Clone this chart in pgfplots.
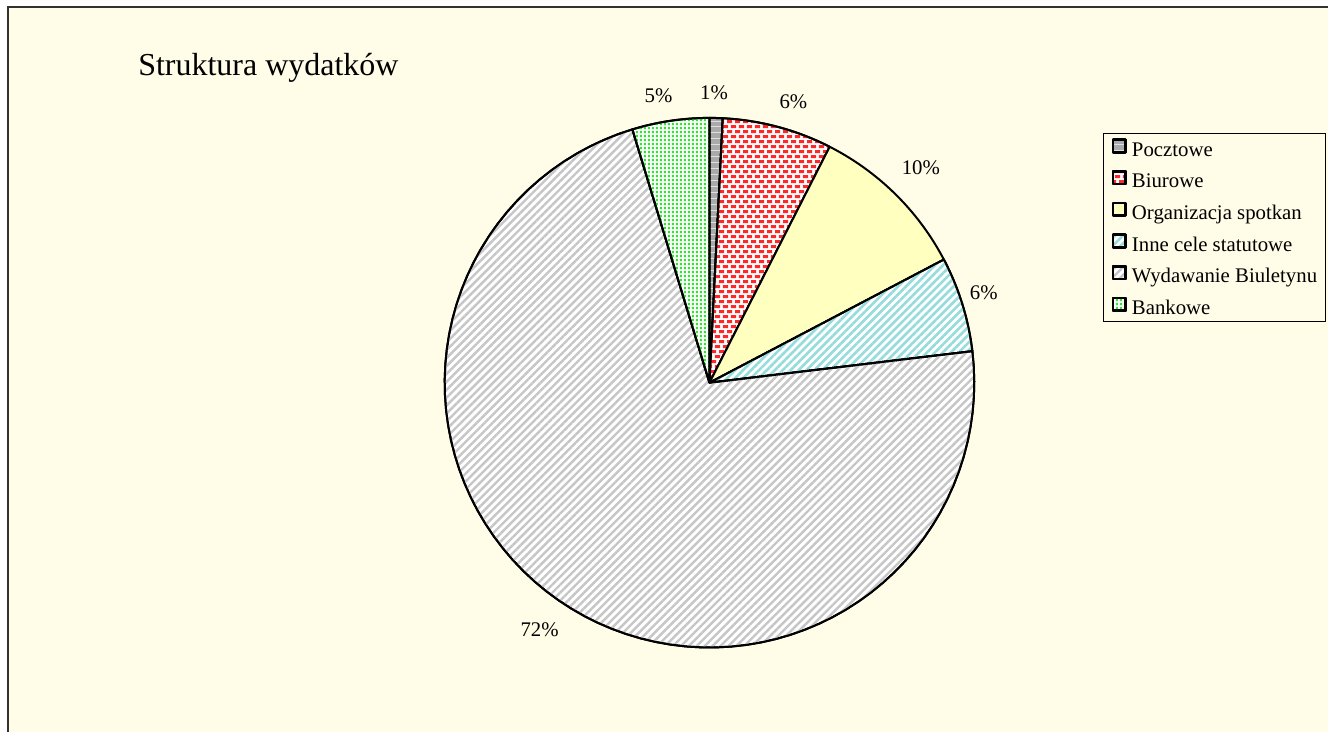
\documentclass[border=0pt]{standalone}
\usepackage{fontspec}
\setmainfont{Liberation Serif}
\usepackage{pgfplots}
\pgfplotsset{compat=1.18}
\usetikzlibrary{patterns,patterns.meta}

\definecolor{bgivory}{RGB}{255,253,231}
\definecolor{framec}{RGB}{50,50,50}
\definecolor{pgray}{RGB}{198,198,198}
\definecolor{pdark}{RGB}{170,170,170}
\definecolor{pyellow}{RGB}{255,255,192}
\definecolor{pcyan}{RGB}{150,220,220}
\definecolor{pred}{RGB}{255,40,40}
\definecolor{pgreen}{RGB}{40,235,40}

% red dashes in staggered rows (Biurowe)
\pgfdeclarepatternformonly{reddash}{\pgfqpoint{0pt}{0pt}}{\pgfqpoint{4pt}{5pt}}{\pgfqpoint{4pt}{5pt}}{%
  \pgfpathrectangle{\pgfqpoint{0pt}{0.5pt}}{\pgfqpoint{2.6pt}{1.4pt}}%
  \pgfpathrectangle{\pgfqpoint{2pt}{3pt}}{\pgfqpoint{2pt}{1.4pt}}%
  \pgfpathrectangle{\pgfqpoint{0pt}{3pt}}{\pgfqpoint{0.6pt}{1.4pt}}%
  \pgfusepath{fill}}
% small green dots (Bankowe)
\pgfdeclarepatternformonly{greendots}{\pgfqpoint{0pt}{0pt}}{\pgfqpoint{2pt}{2pt}}{\pgfqpoint{2pt}{2pt}}{%
  \pgfpathrectangle{\pgfqpoint{0.5pt}{0.5pt}}{\pgfqpoint{1pt}{1pt}}%
  \pgfusepath{fill}}

% pie: centre (710,350), radius 265, clockwise from the top
\newcommand\cum{0}
\newcommand\slice[2]{%
  \pgfmathsetmacro\sa{\cum}%
  \pgfmathsetmacro\sb{\cum+3.6*#2}%
  \xdef\cum{\sb}%
  \edef\tmp{\noexpand\addplot[\unexpanded{#1},draw=black,line width=1pt,line join=round,
    domain=\sa:\sb,samples=80] ({710+265*sin(x)},{350+265*cos(x)}) -- (axis cs:710,350) -- cycle;}%
  \tmp}

\begin{document}
\begin{tikzpicture}
\begin{axis}[
  width=664.5pt, height=366.5pt, scale only axis,
  xmin=0, xmax=1329, ymin=0, ymax=733,
  hide axis, clip=false,
  legend entries={Pocztowe, Biurowe, Organizacja spotkan, Inne cele statutowe, Wydawanie Biuletynu, Bankowe},
  legend style={at={(0.8307,0.8186)}, anchor=north west, draw=black, line width=0.6pt,
    fill=bgivory, font=\fontsize{10.4}{12.5}\selectfont,
    inner xsep=4pt, inner ysep=2.5pt, row sep=6pt,
    nodes={inner sep=0pt, text height=7pt, text depth=1pt}, cells={anchor=west},
    /tikz/every odd column/.append style={column sep=2.5pt}},
  legend image code/.code={\draw[#1,line width=1.3pt] (0pt,-1.1pt) rectangle (6.3pt,5.2pt);},
]
\fill[white] (axis cs:0,0) rectangle (axis cs:1329,733);
\fill[bgivory] (axis cs:8,0) rectangle (axis cs:1329,726);
\draw[framec, line width=1pt] (axis cs:8,0) -- (axis cs:8,726) -- (axis cs:1329,726);

% values in percent
\slice{preaction={fill=pdark}, pattern=horizontal lines, pattern color=gray!25}{0.8}   % Pocztowe
\slice{preaction={fill=white}, pattern=reddash, pattern color=pred}{6.7}             % Biurowe
\slice{fill=pyellow}{9.8}                                                            % Organizacja spotkan
\slice{preaction={fill=white}, pattern={Lines[angle=45,distance=2.8pt,line width=1.3pt]}, pattern color=pcyan}{5.8} % Inne cele statutowe
\slice{preaction={fill=white}, pattern={Lines[angle=45,distance=2.8pt,line width=1.2pt]}, pattern color=pgray}{72.2} % Wydawanie Biuletynu
\slice{preaction={fill=white}, pattern=greendots, pattern color=pgreen}{4.7}         % Bankowe

\node[anchor=base west, inner sep=0pt, font=\fontsize{16}{19}\selectfont] at (axis cs:138,657) {Struktura wydatków};

\begin{scope}[every node/.style={anchor=base, inner sep=0pt, font=\fontsize{10.4}{12.5}\selectfont}]
\node at (axis cs:714.5,633) {1\%};
\node at (axis cs:794,624.7) {6\%};
\node at (axis cs:921.5,558) {10\%};
\node at (axis cs:984.5,433) {6\%};
\node at (axis cs:540,96.3) {72\%};
\node at (axis cs:659,630.3) {5\%};
\end{scope}
\end{axis}
\end{tikzpicture}
\end{document}
